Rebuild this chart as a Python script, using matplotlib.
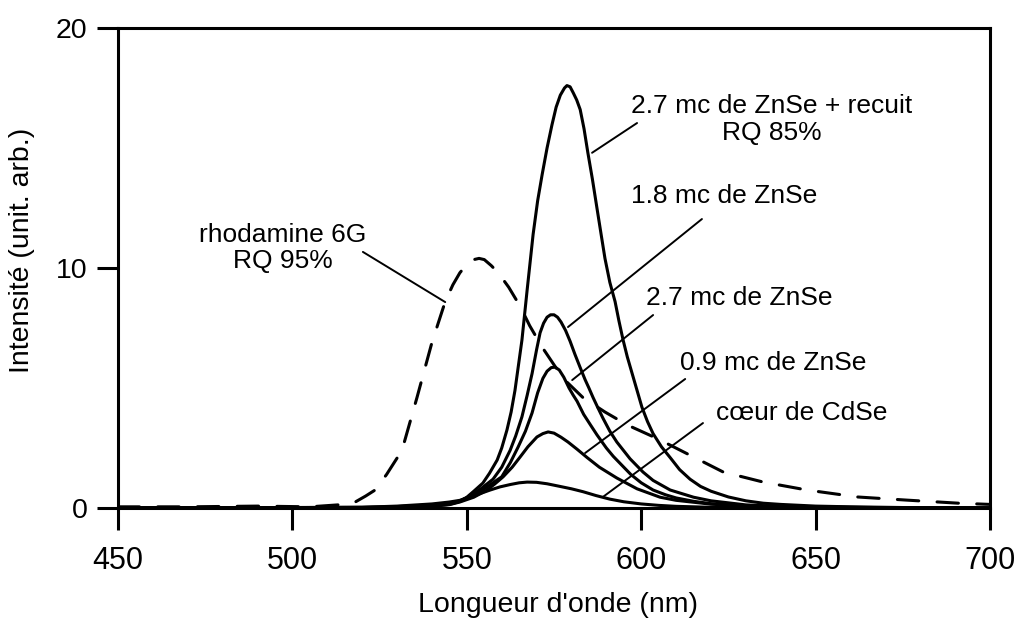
import matplotlib
matplotlib.use("Agg")
import matplotlib.pyplot as plt

plt.rcParams["font.family"] = ["Liberation Sans", "DejaVu Sans"]

# spectres (longueur d'onde nm, intensite unit. arb.)
recuit_wl = [450, 520, 530, 540, 545, 548, 550, 552, 554.6, 556.5, 558.7, 560,
             561.5, 562.7, 563.8, 565.8, 567.3, 569, 570.3, 571.6, 573, 574.4,
             575.6, 576.8, 578, 578.7, 579.6, 580.5, 581.5, 582.5, 583.6, 584.7,
             586, 587.3, 588.5, 589.6, 591, 592.5, 593.6, 594.8, 596, 597.4,
             598.8, 600.2, 601.8, 603.4, 605.8, 608.3, 611, 614, 617, 620, 625,
             630, 635, 640, 650, 660, 675, 700]
recuit_i = [0, 0.02, 0.06, 0.13, 0.2, 0.28, 0.45, 0.7, 1.04, 1.45, 2.0, 2.5,
            3.25, 4.0, 4.9, 7.0, 9.1, 11.4, 12.8, 13.9, 15.0, 15.96, 16.7, 17.2,
            17.5, 17.6, 17.55, 17.3, 17.0, 16.6, 15.8, 14.8, 13.7, 12.5, 11.4,
            10.4, 9.4, 8.6, 7.8, 7.0, 6.3, 5.6, 4.9, 4.2, 3.6, 3.1, 2.55, 2.1,
            1.6, 1.2, 0.9, 0.7, 0.46, 0.3, 0.2, 0.15, 0.08, 0.05, 0.02, 0]

mc18_wl = [450, 530, 540, 545, 548, 551, 554, 557.5, 560, 562.4, 564, 565.8,
           567.3, 568.7, 570, 571, 572, 573, 574, 575, 576, 577, 578.3, 579.6,
           581, 582.5, 583.9, 585, 586.2, 587.5, 589, 591, 593, 596.8, 600.5,
           603.4, 608.3, 615, 620, 630, 640, 650, 670, 700]
mc18_i = [0, 0.03, 0.1, 0.18, 0.3, 0.5, 0.8, 1.2, 1.7, 2.4, 3.0, 3.8, 4.7, 5.6,
          6.6, 7.3, 7.7, 7.95, 8.05, 8.05, 7.95, 7.75, 7.4, 6.95, 6.4, 5.85,
          5.35, 5.0, 4.6, 4.2, 3.75, 3.2, 2.75, 2.05, 1.5, 1.15, 0.75, 0.45,
          0.3, 0.13, 0.07, 0.04, 0.01, 0]

mc27_wl = [450, 530, 540, 545, 548, 551, 554, 557, 560, 562.5, 564.7, 566.8,
           568.7, 570.3, 571.8, 573, 574.2, 575.3, 576.5, 577.8, 579.3, 580.5,
           581.6, 583.5, 585.5, 587.3, 590, 592, 594, 597, 600, 603.4, 607, 610,
           615, 620, 630, 650, 700]
mc27_i = [0, 0.03, 0.08, 0.15, 0.27, 0.45, 0.7, 1.0, 1.3, 1.9, 2.54, 3.2, 3.96,
          4.8, 5.4, 5.7, 5.85, 5.87, 5.75, 5.45, 5.0, 4.7, 4.45, 3.9, 3.45,
          3.05, 2.5, 2.15, 1.85, 1.4, 1.05, 0.75, 0.55, 0.42, 0.28, 0.18, 0.08,
          0.03, 0]

mc09_wl = [450, 530, 540, 545, 548, 552, 555.8, 558, 560.4, 563, 565.3, 567.5,
           570.1, 571.8, 573.3, 575, 577, 579, 581.6, 584.5, 588, 593, 598.8,
           605.4, 610, 620, 630, 650, 700]
mc09_i = [0, 0.02, 0.07, 0.14, 0.25, 0.45, 0.75, 1.0, 1.3, 1.7, 2.13, 2.55,
          2.96, 3.1, 3.17, 3.12, 2.95, 2.75, 2.45, 2.1, 1.7, 1.25, 0.8, 0.45,
          0.32, 0.16, 0.08, 0.03, 0]

coeur_wl = [450, 520, 530, 540, 545, 548, 550, 553.8, 556.5, 559.5, 562.5, 565,
            567.3, 570, 573, 576.7, 580, 583.3, 587, 591, 595, 600, 605, 610,
            620, 640, 700]
coeur_i = [0, 0.03, 0.08, 0.17, 0.25, 0.32, 0.42, 0.6, 0.74, 0.88, 0.98, 1.05,
           1.08, 1.07, 1.01, 0.9, 0.8, 0.68, 0.52, 0.37, 0.26, 0.17, 0.11, 0.07,
           0.03, 0.01, 0]

rhod_wl = [450, 470, 490, 505, 515, 518, 521, 523.7, 527, 531.4, 535.7, 540,
           543.8, 546, 548, 550, 552, 553.5, 555, 557, 559, 562, 565.3, 568,
           571.6, 577.6, 583.3, 589.6, 596, 604.5, 614, 623.5, 635, 647.5, 662,
           676, 691, 700]
rhod_i = [0.05, 0.05, 0.08, 0.05, 0.15, 0.25, 0.5, 0.75, 1.4, 2.4, 4.6, 6.9,
          8.6, 9.3, 9.8, 10.15, 10.35, 10.4, 10.35, 10.1, 9.8, 9.2, 8.4, 7.6,
          6.7, 5.4, 4.6, 4.0, 3.46, 2.9, 2.2, 1.5, 1.08, 0.75, 0.46, 0.33, 0.2,
          0.15]

# etiquettes : texte, position du texte, trait (debut -> fin)
labels = ["2.7 mc de ZnSe + recuit\nRQ 85%", "1.8 mc de ZnSe", "2.7 mc de ZnSe",
          "0.9 mc de ZnSe", "cœur de CdSe", "rhodamine 6G\nRQ 95%"]
label_xy = [(637.5, 16.17), (623.7, 13.0), (628.0, 8.75), (637.8, 6.04),
            (646.1, 3.96), (497.3, 10.83)]
leader_start = [(598.8, 16.04), (617.4, 12.04), (603.4, 8.04), (612.6, 5.375),
                (617.7, 3.54), (520.2, 10.67)]
leader_end = [(585.9, 14.8), (579.0, 7.54), (580.2, 5.33), (583.9, 2.29),
              (589.0, 0.46), (543.8, 8.58)]

x_ticks = [450, 500, 550, 600, 650, 700]
y_ticks = [0, 10, 20]

fig = plt.figure(figsize=(10.15, 6.19), dpi=100)
ax = fig.add_axes([0.1163, 0.1793, 0.8591, 0.7755])

lw = 2.2
for wl, inten in [(recuit_wl, recuit_i), (mc18_wl, mc18_i), (mc27_wl, mc27_i),
                  (mc09_wl, mc09_i), (coeur_wl, coeur_i)]:
    ax.plot(wl, inten, color="black", lw=lw, solid_capstyle="round",
            solid_joinstyle="round")
ax.plot(rhod_wl, rhod_i, color="black", lw=lw, dashes=(7, 6),
        dash_capstyle="round")

for text, (tx, ty), p0, p1 in zip(labels, label_xy, leader_start, leader_end):
    ax.text(tx, ty, text, ha="center", va="center", fontsize=19,
            linespacing=1.15)
    ax.annotate("", xy=p1, xytext=p0,
                arrowprops=dict(arrowstyle="-", lw=1.4, color="black",
                                shrinkA=0, shrinkB=0))

ax.set_xlim(450, 700)
ax.set_ylim(0, 20)
ax.set_xticks(x_ticks)
ax.set_yticks(y_ticks)
ax.tick_params(axis="x", direction="out", length=16, width=2.2, labelsize=22,
               pad=11)
ax.tick_params(axis="y", direction="out", length=15, width=2.2, labelsize=20.5,
               pad=7)
for s in ax.spines.values():
    s.set_linewidth(2.2)

ax.set_xlabel("Longueur d'onde (nm)", fontsize=20.5, labelpad=10)
ax.set_ylabel("Intensité (unit. arb.)", fontsize=20.5)
ax.xaxis.set_label_coords(0.505, -0.175)
ax.yaxis.set_label_coords(-0.095, 0.5375)

fig.savefig("out.png", dpi=100)
